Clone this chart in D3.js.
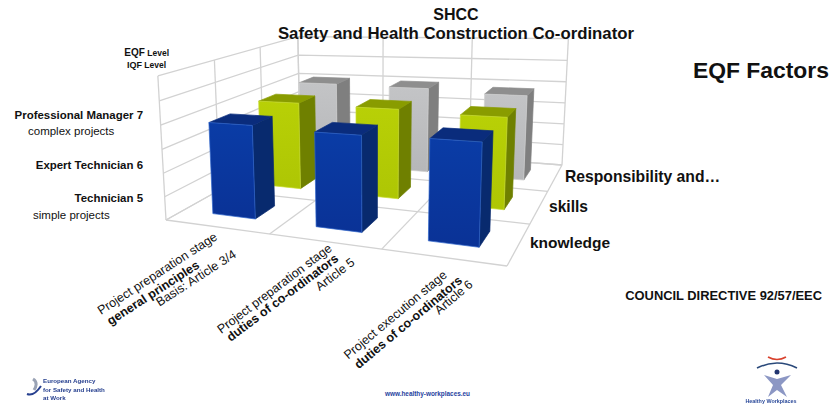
<!DOCTYPE html>
<html><head><meta charset="utf-8">
<script src="https://cdn.jsdelivr.net/npm/d3@7"></script>
<style>html,body{margin:0;background:#fff}svg{display:block}text{font-family:"Liberation Sans",Arial,sans-serif}</style>
</head><body><svg id="c" width="832" height="406"></svg>
<script>
const categories=["Article 3/4","Article 5","Article 6"];
const seriesNames=["knowledge","skills","Responsibility and…"];
const knowledge=[3.9,3.8,3.85];
const skills=[3.95,3.9,3.8];
const responsibility=[4.05,4,3.85];
const valueTicks=[0,1,2,3,4,5,6];
const seriesValues=[knowledge,skills,responsibility];
const colors=[
 {front:"#0a3ca6",frontB:"#0a3296",top:"#0a2c7c",side:"#082a6e",edge:"#2f66cc"},
 {front:"#b8d006",frontB:"#aec604",top:"#899c00",side:"#6f8000",edge:"#c8dc30"},
 {front:"#c3c4c6",frontB:"#b6b7b9",top:"#8e8e8e",side:"#7f7f7f",edge:"#d0d0d0"}];

// projected box: floor corners and the vertical vanishing point
const floorQuad=[[166,220],[507,266],[562,165],[300,145]];
const vp=[374,3900],vk=-0.03766;
function homography(q){
 const [[x0,y0],[x1,y1],[x2,y2],[x3,y3]]=q;
 const dx1=x1-x2,dx2=x3-x2,sx=x0-x1+x2-x3,dy1=y1-y2,dy2=y3-y2,sy=y0-y1+y2-y3;
 const d=dx1*dy2-dx2*dy1,g=(sx*dy2-dx2*sy)/d,h=(dx1*sy-sx*dy1)/d;
 const a=x1-x0+g*x1,b=x3-x0+h*x3,c=x0,dd=y1-y0+g*y1,e=y3-y0+h*y3,f=y0;
 return (u,v,t)=>{const w=g*u+h*v+1+vk*t;return [(a*u+b*v+c+vk*t*vp[0])/w,(dd*u+e*v+f+vk*t*vp[1])/w];};
}
const H=homography(floorQuad);
const xS=d3.scaleLinear().domain([0,1,2,3]).range([0,.35,.68,1]);
const zS=d3.scaleLinear().domain([0,3]).range([0,1]);
const yS=d3.scaleLinear().domain([0,6]).range([0,1]);
function P(cx,cz,val){return H(xS(cx),zS(cz),yS(val));}
const svg=d3.select("#c");
const line=d3.line();
const grid=svg.append("g").attr("fill","none").attr("stroke","#d2d2d2").attr("stroke-width",1.3);
const idx=d3.range(categories.length+1);
idx.forEach(i=>{grid.append("path").attr("d",line([P(i,0,0),P(i,3,0)]));grid.append("path").attr("d",line([P(0,i,0),P(3,i,0)]));});
valueTicks.forEach(t=>{grid.append("path").attr("d",line([P(0,0,t),P(0,3,t),P(3,3,t)]));});
idx.forEach(i=>{grid.append("path").attr("d",line([P(i,3,0),P(i,3,6)]));grid.append("path").attr("d",line([P(0,i,0),P(0,i,6)]));});
const defs=svg.append("defs");
colors.forEach((c,i)=>{const g=defs.append("linearGradient").attr("id","g"+i).attr("x1",0).attr("x2",0).attr("y1",0).attr("y2",1);
 g.append("stop").attr("offset",0).attr("stop-color",c.front);g.append("stop").attr("offset",1).attr("stop-color",c.frontB);});
const blur=defs.append("filter").attr("id","soft");blur.append("feGaussianBlur").attr("stdDeviation",0.45);
const uL=.3,uR=.72,zFront=.31,zBack=.71;
const bars=svg.append("g");
[2,1,0].forEach(s=>{categories.forEach((_,k)=>{
 const v=seriesValues[s][k],x0=k+uL,x1=k+uR,z0=s+zFront,z1=s+zBack,c=colors[s];
 const poly=(pts,fill,st)=>bars.append("path").attr("d",line(pts)+"Z").attr("fill",fill).attr("stroke",st||fill).attr("stroke-width",.7).attr("stroke-linejoin","round");
 poly([P(x1,z0,0),P(x1,z1,0),P(x1,z1,v),P(x1,z0,v)],c.side);
 poly([P(x0,z0,v),P(x1,z0,v),P(x1,z1,v),P(x0,z1,v)],c.top);
 poly([P(x0,z0,0),P(x1,z0,0),P(x1,z0,v),P(x0,z0,v)],"url(#g"+s+")",c.edge);
});});
function T(x,y,str,o={}){return svg.append("text").attr("x",x).attr("y",y).text(str).attr("font-size",o.s||11).attr("font-weight",o.b?"bold":"normal").attr("text-anchor",o.a||"start").attr("fill",o.f||"#111");}
T(456,20,"SHCC",{s:16,b:1,a:"middle"});
T(456,38.5,"Safety and Health Construction Co-ordinator",{s:16.8,b:1,a:"middle"});
T(829,78,"EQF Factors",{s:22.9,b:1,a:"end"});
T(169,56,"EQF",{s:10,b:1,a:"end"}).append("tspan").attr("font-size",8.5).text(" Level");
T(166,68,"IQF",{s:9,b:1,a:"end"}).append("tspan").attr("font-size",8.5).text(" Level");
T(143,119,"Professional Manager 7",{s:11.45,b:1,a:"end"});
T(28,135,"complex projects",{s:11.5});
T(143,169,"Expert Technician 6",{s:11.45,b:1,a:"end"});
T(143,202,"Technician 5",{s:11.45,b:1,a:"end"});
T(33,219,"simple projects",{s:11.5});
T(565,182,"Responsibility and…",{s:15.7,b:1});
T(549,212,"skills",{s:15.6,b:1});
T(530,248,"knowledge",{s:15.5,b:1});
T(822,300,"COUNCIL DIRECTIVE 92/57/EEC",{s:12.9,b:1,a:"end"});
T(385,396,"www.healthy-workplaces.eu",{s:6.4,b:1,f:"#1f3fa0"});
const labels=[
 {x:159.5,y:277,r:-33,lines:[["Project preparation stage",0,0,0],["general principles",-14,14,1],["Basis: Article 3/4",30,25,0]]},
 {x:277,y:292,r:-37,lines:[["Project preparation stage",0,0,0],["duties of co-ordinators",1,12,1],["Article 5",57,25,0]]},
 {x:398,y:318,r:-40,lines:[["Project execution stage",0,0,0],["duties of co-ordinators",5,14,1],["Article 6",56,24,0]]}];
labels.forEach(l=>{const g=svg.append("g").attr("transform",`translate(${l.x},${l.y}) rotate(${l.r})`);
 l.lines.forEach(([s,dx,dy,b])=>g.append("text").attr("x",dx).attr("y",dy).attr("text-anchor","middle").attr("font-size",12.5).attr("font-weight",b?"bold":"normal").attr("fill","#111").text(s));});
// logos
const logoL=svg.append("g").attr("filter","url(#soft)");
[["European Agency",383],["for Safety and Health",392],["at Work",400]].forEach(([s,y])=>logoL.append("text").attr("x",43).attr("y",y).attr("font-size",6.2).attr("font-weight","bold").attr("fill","#27408f").text(s));
logoL.append("path").attr("d","M33 379C38 382 36 387 34 390").attr("fill","none").attr("stroke","#9aa3b5").attr("stroke-width",3);
logoL.append("path").attr("d","M27 394C32 396 37 392 41 386").attr("fill","none").attr("stroke","#27408f").attr("stroke-width",2);
const logoR=svg.append("g").attr("filter","url(#soft)");
logoR.append("text").attr("x",771).attr("y",403).attr("text-anchor","middle").attr("font-size",5.4).attr("font-weight","bold").attr("fill","#2b4a9a").text("Healthy Workplaces");
logoR.append("path").attr("d","M757 368Q777 358 797 368").attr("fill","none").attr("stroke","#2b4a7a").attr("stroke-width",1.6);
logoR.append("path").attr("d","M768 357Q777 362 786 357").attr("fill","none").attr("stroke","#d9432f").attr("stroke-width",1.6);
logoR.append("circle").attr("cx",777).attr("cy",372).attr("r",2.5).attr("fill","#24356f");
logoR.append("path").attr("d","M764 375L777 379L791 375L781 385L787 397L777 390L768 397L773 385Z").attr("fill","#8c97c4");
</script></body></html>
